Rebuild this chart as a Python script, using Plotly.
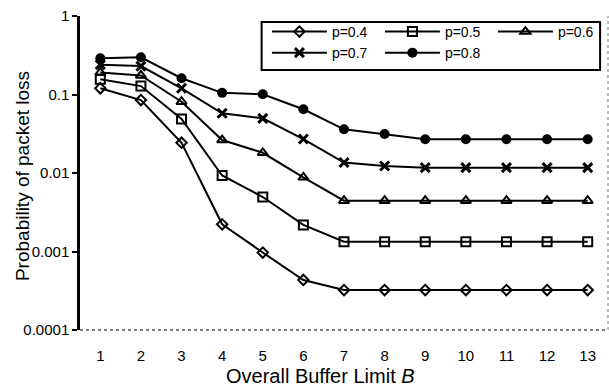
import plotly.graph_objects as go

buffer_limits = [1, 2, 3, 4, 5, 6, 7, 8, 9, 10, 11, 12, 13]
p04 = [0.12, 0.085, 0.0243, 0.00222, 0.00097, 0.000434, 0.000323, 0.000323, 0.000323, 0.000323, 0.000323, 0.000323, 0.000323]
p05 = [0.156, 0.128, 0.0488, 0.0093, 0.00494, 0.00218, 0.00133, 0.00133, 0.00133, 0.00133, 0.00133, 0.00133, 0.00133]
p06 = [0.19, 0.175, 0.081, 0.0263, 0.0181, 0.0088, 0.00444, 0.00444, 0.00444, 0.00444, 0.00444, 0.00444, 0.00444]
p07 = [0.24, 0.23, 0.12, 0.0576, 0.0497, 0.0271, 0.0136, 0.0123, 0.0117, 0.0117, 0.0117, 0.0117, 0.0117]
p08 = [0.29, 0.298, 0.161, 0.105, 0.1005, 0.0648, 0.036, 0.0314, 0.0269, 0.0269, 0.0269, 0.0269, 0.0269]
series_names = ["p=0.4", "p=0.5", "p=0.6", "p=0.7", "p=0.8"]
y_tickvals = [1, 0.1, 0.01, 0.001, 0.0001]
y_ticktext = ["1", "0.1", "0.01", "0.001", "0.0001"]

FONT = "Liberation Sans, Arial, Helvetica, sans-serif"

styles = [
    dict(symbol="diamond-open", size=8, line=dict(width=2, color="black"), color="black"),
    dict(symbol="square-open", size=9, line=dict(width=2, color="black"), color="black"),
    dict(symbol="triangle-up-open", size=9, line=dict(width=2, color="black"), color="black"),
    dict(symbol="x-thin-open", size=9, line=dict(width=3, color="black"), color="black"),
    dict(symbol="circle", size=10, line=dict(width=0, color="black"), color="black"),
]
legends = ["legend", "legend", "legend", "legend2", "legend2"]

fig = go.Figure()
for name, ys, st, lg in zip(series_names, [p04, p05, p06, p07, p08], styles, legends):
    fig.add_trace(go.Scatter(
        x=buffer_limits, y=ys, name=name, mode="lines+markers",
        line=dict(color="black", width=2),
        marker=st, legend=lg,
    ))

leg_common = dict(orientation="h", xanchor="left", yanchor="middle",
                  entrywidth=43, itemwidth=55, bgcolor="rgba(0,0,0,0)",
                  font=dict(size=14, family=FONT), borderwidth=0, tracegroupgap=0)

fig.update_layout(
    width=609, height=386,
    margin=dict(l=80, r=1, t=16, b=56, autoexpand=False),
    paper_bgcolor="white", plot_bgcolor="white",
    font=dict(family=FONT, color="black", size=15),
    showlegend=True,
    legend=dict(x=0.354, y=0.949, **leg_common),
    legend2=dict(x=0.354, y=0.882, **leg_common),
    xaxis=dict(range=[0.5, 13.5], tickvals=buffer_limits, ticks="", showline=False,
               showgrid=False, zeroline=False, tickfont=dict(size=15), ticklabelstandoff=15),
    xaxis2=dict(overlaying="x", side="top", range=[0.5, 13.5],
                tickvals=[1.5, 2.5, 3.5, 4.5, 5.5, 6.5, 7.5, 8.5, 9.5, 10.5, 11.5, 12.5],
                ticks="inside", ticklen=5, tickwidth=2, tickcolor="black",
                showticklabels=False, showline=True, linewidth=2.5, linecolor="black",
                showgrid=False, zeroline=False),
    yaxis=dict(type="log", range=[-4, 0], tickvals=y_tickvals, ticktext=y_ticktext,
               ticks="outside", ticklen=5, tickwidth=2, tickcolor="black",
               showline=True, linewidth=2.5, linecolor="black", showgrid=False,
               zeroline=False, tickfont=dict(size=15)),
    shapes=[
        dict(type="line", xref="paper", yref="paper", x0=0, x1=1, y0=0, y1=0,
             line=dict(color="#555", width=1.5, dash="dot")),
        dict(type="line", xref="paper", yref="paper", x0=1, x1=1, y0=0, y1=1,
             line=dict(color="#777", width=1, dash="dot")),
        dict(type="rect", xref="paper", yref="paper", x0=0.344, x1=0.985, y0=0.828, y1=0.981,
             line=dict(color="black", width=2), fillcolor="rgba(0,0,0,0)"),
    ],
    annotations=[
        dict(text="Overall Buffer Limit <i>B</i>", xref="paper", yref="paper",
             x=0.456, y=-0.145, xanchor="center", yanchor="middle", showarrow=False,
             font=dict(size=20, family=FONT)),
        dict(text="Probability of packet loss", xref="paper", yref="paper",
             x=-0.11, y=0.49, xanchor="center", yanchor="middle", textangle=-90,
             showarrow=False, font=dict(size=19, family=FONT)),
    ],
)

fig.write_html("out.html")
